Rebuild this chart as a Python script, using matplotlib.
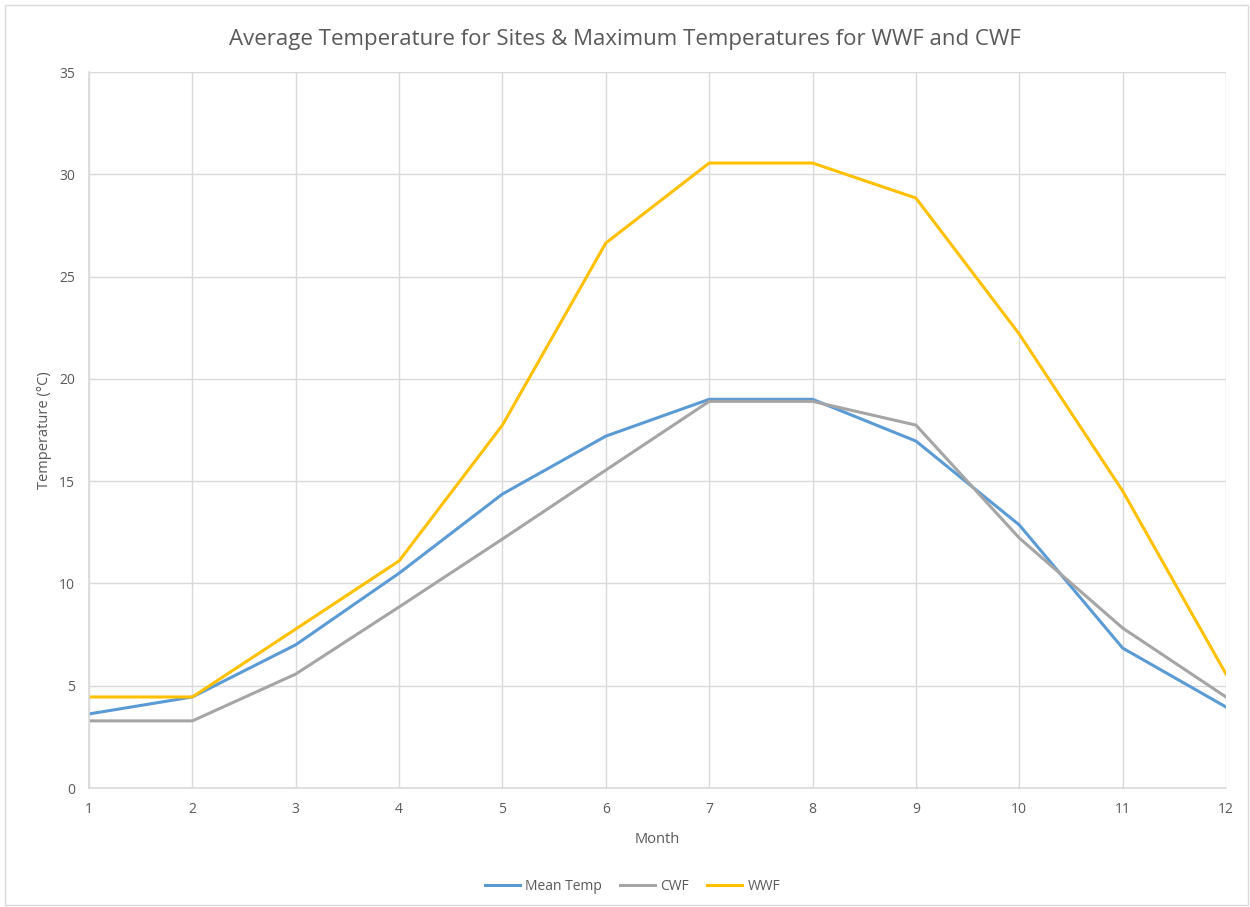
import matplotlib
matplotlib.use("Agg")
import matplotlib.pyplot as plt
from matplotlib.patches import Rectangle

months = [1, 2, 3, 4, 5, 6, 7, 8, 9, 10, 11, 12]
mean_temp = [3.62, 4.45, 7.0, 10.5, 14.37, 17.2, 19.0, 19.0, 16.96, 12.86, 6.84, 3.96]
cwf = [3.28, 3.28, 5.57, 8.85, 12.17, 15.54, 18.9, 18.9, 17.74, 12.22, 7.82, 4.45]
wwf = [4.45, 4.45, 7.77, 11.1, 17.74, 26.64, 30.55, 30.55, 28.84, 22.19, 14.52, 5.57]

plt.rcParams['font.family'] = ['Open Sans', 'DejaVu Sans']
text_color = '#595959'
grid_color = '#d9d9d9'

fig = plt.figure(figsize=(12.5, 9.07), dpi=100)
ax = fig.add_axes([0.0712, 0.1312, 0.9096, 0.7894])

# chart area border
fig.patches.append(Rectangle((0.004, 0.002), 0.994, 0.992, transform=fig.transFigure,
                             fill=False, edgecolor=grid_color, linewidth=1.0))

ax.plot(months, mean_temp, color='#5B9BD5', lw=2.2, label='Mean Temp', solid_joinstyle='round')
ax.plot(months, cwf, color='#A5A5A5', lw=2.2, label='CWF', solid_joinstyle='round')
ax.plot(months, wwf, color='#FFC000', lw=2.2, label='WWF', solid_joinstyle='round')

ax.set_xlim(1, 12)
ax.set_ylim(0, 35)
ax.set_xticks(months)
ax.set_yticks(range(0, 36, 5))
ax.grid(True, color=grid_color, lw=1.0)
ax.set_axisbelow(True)
for side in ['top', 'right']:
    ax.spines[side].set_visible(False)
for side in ['left', 'bottom']:
    ax.spines[side].set_color(grid_color)
    ax.spines[side].set_linewidth(1.2)
ax.tick_params(length=0, labelsize=10, colors=text_color, pad=10)

ax.set_xlabel('Month', fontsize=10.5, color=text_color, labelpad=11)
ax.set_ylabel('Temperature (°C)', fontsize=10.5, color=text_color, labelpad=5)
fig.suptitle('Average Temperature for Sites & Maximum Temperatures for WWF and CWF',
             fontsize=16, color=text_color, y=0.968)

ax.legend(loc='center', bbox_to_anchor=(0.478, -0.137), ncol=3, frameon=False,
          fontsize=10, labelcolor=text_color, handlelength=2.5, columnspacing=1.3,
          handletextpad=0.4)

fig.savefig('out.png', dpi=100)
